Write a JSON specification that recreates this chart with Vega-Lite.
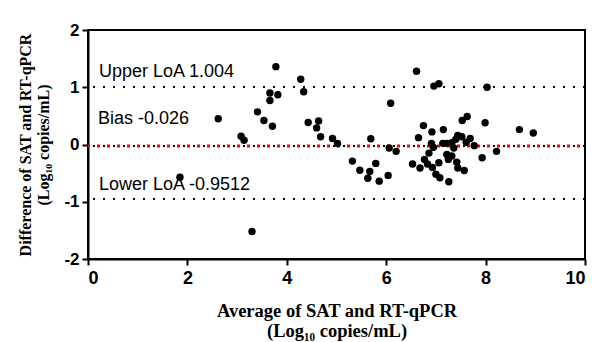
{
  "$schema": "https://vega.github.io/schema/vega-lite/v6.json",
  "width": 497,
  "height": 229,
  "autosize": {"type": "none"},
  "padding": {"left": 88, "top": 30, "right": 10, "bottom": 83},
  "background": "white",
  "config": {
    "view": {"stroke": "black", "strokeWidth": 2},
    "axis": {
      "domainColor": "black", "domainWidth": 2, "tickColor": "black", "tickWidth": 2,
      "grid": false, "labelFont": "Liberation Sans", "labelFontWeight": "bold",
      "labelFontSize": 15, "labelColor": "black",
      "titleFont": "Liberation Serif", "titleFontWeight": "bold", "titleFontSize": 17, "titleColor": "black"
    }
  },
  "datasets": {
    "points": [
      {"avg": 1.85, "diff": -0.57}, {"avg": 2.62, "diff": 0.45}, {"avg": 3.08, "diff": 0.145}, {"avg": 3.14, "diff": 0.075},
      {"avg": 3.30, "diff": -1.52}, {"avg": 3.41, "diff": 0.57}, {"avg": 3.54, "diff": 0.42}, {"avg": 3.71, "diff": 0.32},
      {"avg": 3.66, "diff": 0.90}, {"avg": 3.66, "diff": 0.77}, {"avg": 3.82, "diff": 0.87}, {"avg": 3.78, "diff": 1.36},
      {"avg": 4.28, "diff": 1.14}, {"avg": 4.34, "diff": 0.92}, {"avg": 4.43, "diff": 0.385}, {"avg": 4.64, "diff": 0.41},
      {"avg": 4.60, "diff": 0.29}, {"avg": 4.68, "diff": 0.135}, {"avg": 4.92, "diff": 0.105}, {"avg": 5.02, "diff": 0.017},
      {"avg": 5.32, "diff": -0.29}, {"avg": 5.47, "diff": -0.45}, {"avg": 5.63, "diff": -0.59}, {"avg": 5.67, "diff": -0.47},
      {"avg": 5.79, "diff": -0.33}, {"avg": 5.86, "diff": -0.64}, {"avg": 5.69, "diff": 0.10}, {"avg": 6.04, "diff": -0.54},
      {"avg": 6.06, "diff": -0.06}, {"avg": 6.20, "diff": -0.12}, {"avg": 6.09, "diff": 0.72}, {"avg": 6.61, "diff": 1.28},
      {"avg": 6.53, "diff": -0.34}, {"avg": 6.65, "diff": 0.12}, {"avg": 6.75, "diff": 0.33}, {"avg": 6.68, "diff": -0.41},
      {"avg": 6.77, "diff": -0.26}, {"avg": 6.83, "diff": -0.34}, {"avg": 6.86, "diff": -0.15}, {"avg": 6.92, "diff": 0.22},
      {"avg": 6.91, "diff": 0.02}, {"avg": 6.95, "diff": -0.05}, {"avg": 6.93, "diff": -0.40}, {"avg": 6.96, "diff": 1.02},
      {"avg": 7.06, "diff": 1.06}, {"avg": 7.00, "diff": -0.52}, {"avg": 7.08, "diff": -0.58}, {"avg": 7.06, "diff": -0.32},
      {"avg": 7.15, "diff": 0.26}, {"avg": 7.14, "diff": 0.02}, {"avg": 7.22, "diff": -0.175}, {"avg": 7.25, "diff": -0.26},
      {"avg": 7.26, "diff": -0.65}, {"avg": 7.22, "diff": 0.02}, {"avg": 7.32, "diff": -0.20}, {"avg": 7.36, "diff": -0.06},
      {"avg": 7.32, "diff": 0.03}, {"avg": 7.40, "diff": 0.09}, {"avg": 7.44, "diff": 0.16}, {"avg": 7.42, "diff": -0.31},
      {"avg": 7.44, "diff": -0.41}, {"avg": 7.52, "diff": 0.135}, {"avg": 7.53, "diff": 0.42}, {"avg": 7.63, "diff": 0.49},
      {"avg": 7.57, "diff": -0.455}, {"avg": 7.61, "diff": 0.04}, {"avg": 7.69, "diff": 0.105}, {"avg": 7.77, "diff": -0.02},
      {"avg": 7.93, "diff": -0.23}, {"avg": 7.99, "diff": 0.38}, {"avg": 8.03, "diff": 1.00}, {"avg": 8.22, "diff": -0.12},
      {"avg": 8.68, "diff": 0.26}, {"avg": 8.96, "diff": 0.20}
    ],
    "lines": [
      {"name": "upper", "value": 1.004},
      {"name": "lower", "value": -0.9512},
      {"name": "bias", "value": -0.026}
    ],
    "labels": [
      {"text": "Upper LoA 1.004", "x": 0.22, "y": 1.26},
      {"text": "Bias -0.026", "x": 0.2, "y": 0.44},
      {"text": "Lower LoA -0.9512", "x": 0.22, "y": -0.71}
    ]
  },
  "layer": [
    {
      "data": {"name": "lines"},
      "mark": {"type": "rule", "color": "black", "strokeWidth": 2, "strokeDash": [2, 8], "strokeDashOffset": 0},
      "encoding": {"y": {"field": "value", "type": "quantitative"}}
    },
    {
      "data": {"name": "lines"},
      "transform": [{"filter": "datum.name === 'bias'"}],
      "mark": {"type": "rule", "color": "#ff0000", "strokeWidth": 3, "strokeDash": [3, 7], "strokeDashOffset": 5},
      "encoding": {"y": {"field": "value", "type": "quantitative"}}
    },
    {
      "data": {"name": "points"},
      "mark": {"type": "circle", "color": "black", "opacity": 1, "size": 55},
      "encoding": {
        "x": {
          "field": "avg", "type": "quantitative",
          "scale": {"domain": [0, 10], "nice": false},
          "axis": {"values": [0, 2, 4, 6, 8, 10], "tickSize": 6, "labelPadding": 4, "labelFontSize": 18,
                   "title": ["Average of SAT and RT-qPCR", "(Log₁₀ copies/mL)"], "titleFontSize": 18.5, "titlePadding": 14}
        },
        "y": {
          "field": "diff", "type": "quantitative",
          "scale": {"domain": [-2, 2], "nice": false},
          "axis": {"values": [-2, -1, 0, 1, 2], "tickSize": 6, "labelPadding": 3, "labelFontSize": 17,
                   "labelExpr": "'' + datum.value",
                   "title": ["Difference of SAT and RT-qPCR", "(Log₁₀ copies/mL)"], "titleFontSize": 16, "titlePadding": 12}
        }
      }
    },
    {
      "data": {"name": "labels"},
      "mark": {"type": "text", "align": "left", "baseline": "middle", "font": "Liberation Sans", "fontSize": 18, "color": "black"},
      "encoding": {
        "x": {"field": "x", "type": "quantitative"},
        "y": {"field": "y", "type": "quantitative"},
        "text": {"field": "text"}
      }
    }
  ]
}
